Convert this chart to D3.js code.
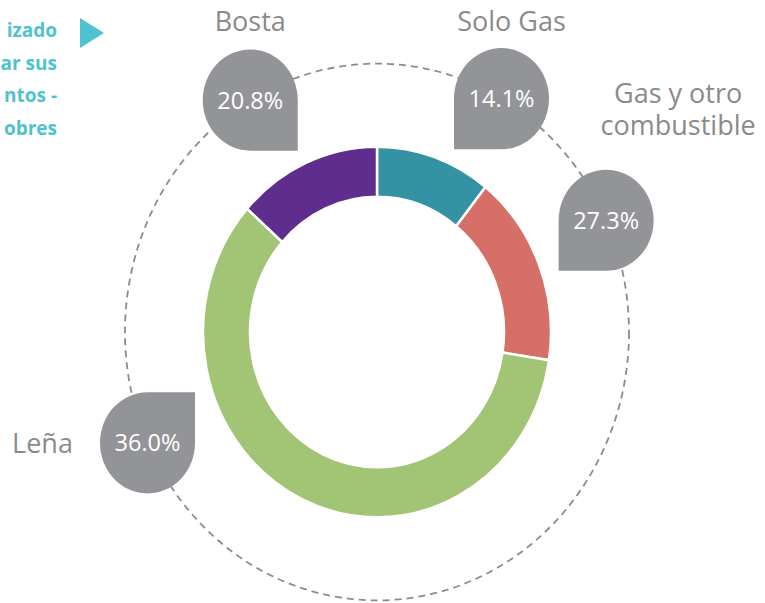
<!DOCTYPE html>
<html>
<head>
<meta charset="utf-8">
<script src="https://cdn.jsdelivr.net/npm/d3@7"></script>
<style>
  body { margin: 0; background: #fff; }
  svg { display: block; font-family: "Open Sans", sans-serif; }
</style>
</head>
<body>
<svg width="765" height="603"></svg>
<script>
// data
const categories = ['Solo Gas', 'Gas y otro combustible', 'Leña', 'Bosta'];
const shares = [10.7, 16.7, 59.1, 13.4];          // arc sizes as drawn
const labels = ['14.1%', '27.3%', '36.0%', '20.8%']; // printed in bubbles
const colors = ['#3592a4', '#d76f69', '#a1c475', '#5e2d8d'];
const sideText = ['izado', 'ar sus', 'ntos -', 'obres'];

const svg = d3.select('svg');

const cx = 377, cy = 332;
const stretch = 1.065;
const outerR = 174, innerR = 127;
const ringR = 252;
const bubbleR = 47.5;

// bubble layout: angle on dashed ring (deg, clockwise from top), square corner rotation
const bubbleLayout = [
  { angle: 29.6, corner: 90,  lines: ['Solo Gas'], tx: 10, ty: -68 },
  { angle: 65.4, corner: 90,  lines: ['Gas y otro', 'combustible'], tx: 72, ty: -117 },
  { angle: 245.6, corner: 270, lines: ['Leña'], tx: -105, ty: 10 },
  { angle: 329.8, corner: 0,  lines: ['Bosta'], tx: 0, ty: -69 }
];

const g = svg.append('g')
  .attr('transform', `translate(${cx}, ${cy}) scale(1, ${stretch})`);

// dashed guide ring
g.append('circle')
  .attr('r', ringR)
  .attr('fill', 'none')
  .attr('stroke', '#8c8c8c')
  .attr('stroke-width', 1.8)
  .attr('stroke-dasharray', '7 5')
  .attr('vector-effect', 'non-scaling-stroke');

const pie = d3.pie().sort(null).value(d => d);
const arc = d3.arc().innerRadius(innerR).outerRadius(outerR);

g.selectAll('path.slice').data(pie(shares))
  .enter().append('path')
  .attr('class', 'slice')
  .attr('d', arc)
  .attr('fill', (d, i) => colors[i])
  .attr('stroke', '#fff')
  .attr('stroke-width', 2.5)
  .attr('vector-effect', 'non-scaling-stroke');

// teardrop: circle with one square corner (bottom-right before rotation)
const r = bubbleR;
const drop = `M${r},0 L${r},${r} L0,${r} A${r},${r} 0 1 1 ${r},0 Z`;

const bubbles = svg.selectAll('g.bubble').data(bubbleLayout)
  .enter().append('g')
  .attr('class', 'bubble')
  .attr('transform', d => {
    const a = d.angle * Math.PI / 180;
    const x = cx + ringR * Math.sin(a);
    const y = cy - ringR * Math.cos(a) * stretch;
    return `translate(${x}, ${y})`;
  });

bubbles.append('path')
  .attr('d', drop)
  .attr('transform', d => `scale(1, ${stretch}) rotate(${d.corner})`)
  .attr('fill', '#939497');

bubbles.append('text')
  .attr('text-anchor', 'middle')
  .attr('dy', '0.36em')
  .attr('fill', '#fff')
  .attr('font-size', 23.5)
  .text((d, i) => labels[i]);

bubbles.append('text')
  .attr('text-anchor', 'middle')
  .attr('fill', '#8a8a8a')
  .attr('font-size', 27)
  .attr('transform', d => `translate(${d.tx}, ${d.ty})`)
  .selectAll('tspan').data(d => d.lines)
  .enter().append('tspan')
  .attr('x', 0)
  .attr('dy', (d, i) => i === 0 ? 0 : 32)
  .text(d => d);

// clipped side note, top left
svg.append('g')
  .selectAll('text').data(sideText)
  .enter().append('text')
  .attr('x', 57)
  .attr('y', (d, i) => 37 + i * 32.5)
  .attr('text-anchor', 'end')
  .attr('fill', '#4dc3d0')
  .attr('font-size', 19)
  .attr('font-weight', 'bold')
  .text(d => d);

svg.append('path')
  .attr('d', 'M80,18 L80,48 L104,33 Z')
  .attr('fill', '#4dc3d0');
</script>
</body>
</html>
